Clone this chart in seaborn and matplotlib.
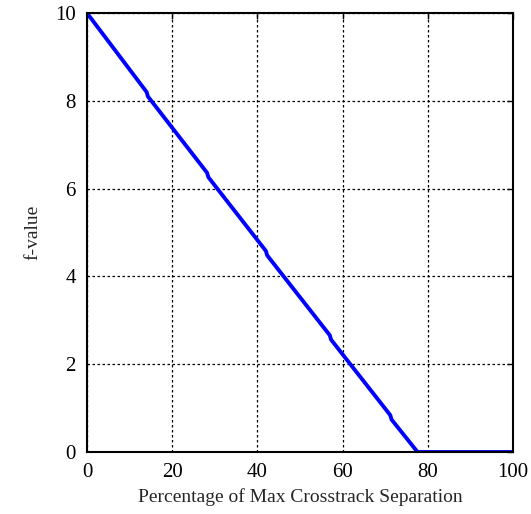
import matplotlib
matplotlib.use("Agg")
import matplotlib.pyplot as plt
import seaborn as sns
import pandas as pd

# Valores (línea con pequeños escalones)
separacion = [0, 14.0, 14.3, 28.2, 28.5, 42.0, 42.3, 57.0, 57.3, 71.2, 71.5, 77.6, 100]
f_value = [10, 8.20, 8.10, 6.36, 6.26, 4.58, 4.48, 2.66, 2.56, 0.84, 0.74, 0, 0]

x_ticks = [0, 20, 40, 60, 80, 100]
y_ticks = [0, 2, 4, 6, 8, 10]

sns.set_style("white")
plt.rcParams['font.family'] = ['Liberation Serif', 'DejaVu Serif']

df = pd.DataFrame({'sep': separacion, 'f': f_value})

fig = plt.figure(figsize=(5.31, 5.14), dpi=100)
ax = fig.add_axes([0.1638, 0.1206, 0.8022, 0.8541])

sns.lineplot(data=df, x='sep', y='f', ax=ax, color='#0000ff', linewidth=2.8,
             sort=False, estimator=None)

ax.set_xlim(0, 100)
ax.set_ylim(0, 10)
ax.set_xticks(x_ticks)
ax.set_yticks(y_ticks)
ax.grid(True, color='black', linestyle=(0, (2, 2)), linewidth=0.9)
ax.set_axisbelow(True)
for s in ax.spines.values():
    s.set_color('black')
    s.set_linewidth(1.5)
ax.tick_params(direction='in', length=4, width=1, top=True, right=True,
               labelsize=15, colors='black', pad=8)

ax.set_xlabel('Percentage of Max Crosstrack Separation', fontsize=14, labelpad=4)
ax.set_ylabel('f-value', fontsize=14, labelpad=10)

fig.savefig('out.png', dpi=100)
